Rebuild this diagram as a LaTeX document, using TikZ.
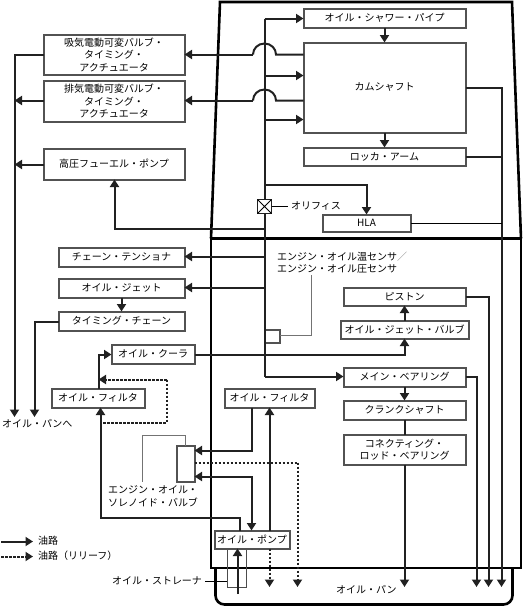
\documentclass[tikz,border=0pt]{standalone}
\usepackage{fontspec}
\setmainfont{Noto Sans CJK JP}
\usetikzlibrary{arrows.meta,calc}
\definecolor{ink}{gray}{0.13}
\definecolor{edge}{gray}{0.32}
\tikzset{
  bx/.style={draw=edge,fill=white,line width=2pt,inner sep=0pt,outer sep=0pt,align=center,font=\fontsize{10}{12.5}\selectfont},
  lbl/.style={inner sep=0pt,outer sep=0pt,anchor=west,align=left,font=\fontsize{10}{12.5}\selectfont},
  ln/.style={draw=ink,line width=2pt,line join=miter},
  thn/.style={draw=black,line width=1.6pt},
  oil/.style={ln,-{Triangle[length=7.5pt,width=9pt]},ink},
  rel/.style={oil,dash pattern=on 2.5pt off 1.5pt},
  relp/.style={draw=ink,line width=2pt,dash pattern=on 2.5pt off 1.5pt},
  ld/.style={line width=1.3pt,draw=black!55},
  wall/.style={line width=2.6pt,line join=miter}
}
\newcommand{\bxn}[6]{\node[bx,minimum width={(#4-#2)*1pt},minimum height={(#5-#3)*1pt}] (#1) at ({(#2+#4)/2},{(#3+#5)/2}) {#6};}
\begin{document}
\begin{tikzpicture}[x=1pt,y=-1pt]
\useasboundingbox (0,0) rectangle (523,606);
% walls
\draw[wall] (211,238.5) -- (220,2) -- (512,2) -- (521,238.5);
\draw[wall] (211,238.5) rectangle (521,568);
\draw[wall,rounded corners=9pt] (215.5,568) -- (215.5,604.5) -- (512.5,604.5) -- (512.5,568);
% boxes
\bxn{intake}{43.5}{34.5}{184.5}{74.5}{吸気電動可変バルブ・\\タイミング・\\アクチュエータ}
\bxn{exhaust}{43.5}{80.5}{184.5}{121.5}{排気電動可変バルブ・\\タイミング・\\アクチュエータ}
\bxn{hpump}{43.5}{148.5}{184.5}{179.5}{高圧フューエル・ポンプ}
\bxn{shower}{303.5}{8.5}{465.5}{27.5}{オイル・シャワー・パイプ}
\bxn{cam}{303.5}{42.5}{465.5}{132.5}{カムシャフト}
\bxn{rocker}{303.5}{147.5}{465.5}{165.5}{ロッカ・アーム}
\bxn{hla}{322.5}{214.5}{410.5}{231.5}{HLA}
\bxn{tens}{58.5}{247.5}{184.5}{266.5}{チェーン・テンショナ}
\bxn{jet}{58.5}{278.5}{184.5}{297.5}{オイル・ジェット}
\bxn{chain}{58.5}{311.5}{184.5}{330.5}{タイミング・チェーン}
\bxn{cooler}{111.5}{344.5}{194.5}{363.5}{オイル・クーラ}
\bxn{filterl}{51.5}{388.5}{144.5}{407.5}{オイル・フィルタ}
\bxn{filterr}{224.5}{388.5}{314.5}{407.5}{オイル・フィルタ}
\bxn{piston}{343.5}{287.5}{465.5}{305.5}{ピストン}
\bxn{jetv}{340.5}{320.5}{468.5}{338.5}{オイル・ジェット・バルブ}
\bxn{main}{343.5}{367.5}{465.5}{386.5}{メイン・ベアリング}
\bxn{crank}{343.5}{400.5}{465.5}{419.5}{クランクシャフト}
\bxn{rod}{343.5}{434.5}{465.5}{464.5}{コネクティング・\\ロッド・ベアリング}
\bxn{sol}{176.5}{445.5}{194.5}{481.5}{}
\bxn{sens}{264.5}{329.5}{279.5}{342.5}{}
\node[draw=black!70,line width=1.3pt,inner sep=0pt,minimum width=19.5pt,minimum height=39.5pt] (strain) at (237,567.75) {};
\bxn{opump}{214.5}{530.5}{289.5}{548.5}{オイル・ポンプ}
\node[draw=ink,fill=white,line width=1.2pt,inner sep=0pt,outer sep=0pt,minimum size=14pt] (orf) at (264.5,206.5) {};
\draw[line width=.8pt] (orf.north west) -- (orf.south east) (orf.north east) -- (orf.south west);
% free labels
\node[lbl] (orfl) at (291,206) {オリフィス};
\node[lbl] (sensl) at (277,262.5) {エンジン・オイル温センサ{\color{black!50}／}\\エンジン・オイル圧センサ};
\node[lbl] (soll) at (108,496) {エンジン・オイル・\\ソレノイド・バルブ};
\node[lbl] (strl) at (112,581) {オイル・ストレーナ};
\node[lbl] (panl) at (336,590) {オイル・パン};
\node[lbl] (tol) at (2,423.5) {オイル・パンへ};
\node[lbl] (leg1) at (38,541) {油路};
\node[lbl] (leg2) at (38,556) {油路（リリーフ）};
% named points
\coordinate (spT) at (264.5,18.5);
\coordinate (spA) at (264.5,75.5);
\coordinate (spB) at (264.5,119.5);
\coordinate (spC) at (264.5,184.5);
\coordinate (spD) at (264.5,228.5);
\coordinate (spE) at (264.5,256.5);
\coordinate (spF) at (264.5,287.5);
\coordinate (spG) at (264.5,376.5);
\coordinate (drL) at (14.5,54.5);
\coordinate (drL2) at (14.5,417);
\coordinate (drC) at (34.5,321.5);
\coordinate (drC2) at (34.5,417);
\coordinate (b1) at (276,54.5);
\coordinate (b2) at (253,54.5);
\coordinate (b3) at (276,100.5);
\coordinate (b4) at (253,100.5);
\coordinate (hy) at (14.5,164.5);
\coordinate (hp) at (114.5,179.5);
\coordinate (cy) at (403.5,354.5);
\coordinate (cy2) at (98.5,354.5);
\coordinate (r1) at (501.5,587);
\coordinate (r2) at (488.5,587);
\coordinate (r3) at (476.5,587);
\coordinate (c4) at (404.5,587);
\coordinate (fb) at (100.5,517.5);
\coordinate (fr) at (251.5,450.5);
\coordinate (fq) at (251.5,476.5);
\coordinate (dq) at (297.5,462.5);
\coordinate (dp) at (269.5,587);
\coordinate (dq2) at (297.5,587);
\coordinate (lb) at (166.5,379.5);
\coordinate (lc) at (166.5,422.5);
\coordinate (sb) at (237.5,594);
\coordinate (sg1) at (142.5,435.5);
\coordinate (sg2) at (142.5,482);
\coordinate (sg3) at (311.5,335.5);
\coordinate (sg4) at (311.5,275);
\coordinate (orfe) at (288,206.5);
\coordinate (stre) at (205,581.5);
% spine
\draw[ln] (spT) -- (orf.north);
\draw[ln] (orf.south) -- (spG);
\draw[oil] (spT) -- (shower.west |- spT);
\draw[oil] (spA) -- (cam.west |- spA);
\draw[oil] (spB) -- (cam.west |- spB);
\draw[oil] (shower) -- (cam);
\draw[oil] (cam) -- (rocker);
% bridges to actuators
\draw[ln] (cam.west |- b1) -- (b1) .. controls (276,48.5) and (271,43.5) .. (264.5,43.5) .. controls (258,43.5) and (253,48.5) .. (b2);
\draw[oil] (b2) -- (intake.east |- b2);
\draw[ln] (cam.west |- b3) -- (b3) .. controls (276,94.5) and (271,89.5) .. (264.5,89.5) .. controls (258,89.5) and (253,94.5) .. (b4);
\draw[oil] (b4) -- (exhaust.east |- b4);
% left drain
\draw[oil] (intake.west |- drL) -- (drL) -- (drL2);
\draw[oil] (exhaust.west |- b3) -- (drL |- b3);
\draw[oil] (hpump.west |- hy) -- (hy);
\draw[oil] (spD) -- (hp |- spD) -- (hp);
% HLA and orifice
\draw[oil] (spC) -- (hla |- spC) -- (hla.north);
\draw[thn] (orf.east) -- (orfe);
% right drains
\draw[oil] (cam.east |- 0,87.5) -- (r1 |- 0,87.5) -- (r1);
\draw[ln] (rocker.east) -- (r1 |- rocker.east);
\draw[thn] (hla.east |- 0,223.5) -- (r1 |- 0,223.5);
\draw[oil] (piston.east) -- (r2 |- piston.east) -- (r2);
\draw[oil] (main.east |- spG) -- (r3 |- spG) -- (r3);
\draw[oil] (jetv) -- (piston);
\draw[oil] (spG) -- (main.west |- spG);
\draw[oil] (main) -- (crank);
\draw[ln] (crank) -- (rod);
\draw[oil] (rod.south) -- (c4);
% lower left
\draw[oil] (spE) -- (tens.east |- spE);
\draw[oil] (spF) -- (jet.east |- spF);
\draw[oil] (jet) -- (chain);
\draw[oil] (chain.west |- drC) -- (drC) -- (drC2);
\draw[oil] (cooler.east |- cy) -- (jetv.south |- cy) -- (jetv.south);
\draw[oil] (filterl.north -| cy2) -- (cy2) -- (cooler.west |- cy2);
\draw[rel] (lb) -- (98.5,379.5);
\draw[relp] (lb) -- (lc) -- (100.5,422.5);
\draw[oil] (opump.north -| 239.5,0) -- (239.5,517.5) -- (fb) -- (filterl.south -| fb);
% filter / solenoid
\draw[oil] (opump.north -| 269.5,0) -- (filterr.south -| 269.5,0);
\draw[oil] (filterr.south -| fr) -- (fr) -- (sol.east |- fr);
\draw[ln,{Triangle[length=7.5pt,width=9pt]}-{Triangle[length=7.5pt,width=9pt]},ink] (sol.east |- fq) -- (fq) -- (opump.north -| fq);
\draw[relp] (sol.east |- dq) -- (dq);
\draw[rel] (dq) -- (dq2);
\draw[rel] (opump.south -| dp) -- (dp);
% strainer
\draw[oil] (sb) -- (sb |- opump.south);
\draw[thn] (stre) -- (strain.west |- stre);
% leader lines
\draw[ld] (sol.north) -- (sol.north |- sg1) -- (sg1) -- (sg2);
\draw[ld] (sens.east |- sg3) -- (sg3) -- (sg4);
% legend
\coordinate (k1) at (1,541.5);
\coordinate (k2) at (33,541.5);
\coordinate (k3) at (1,556.5);
\coordinate (k4) at (33,556.5);
\draw[oil] (k1) -- (k2);
\draw[rel] (k3) -- (k4);
\end{tikzpicture}
\end{document}
